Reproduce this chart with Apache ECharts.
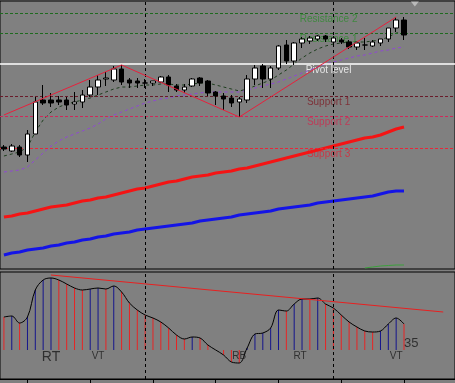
<!DOCTYPE html>
<html><head><meta charset="utf-8">
<script src="https://cdn.jsdelivr.net/npm/echarts@6/dist/echarts.min.js"></script>
<style>html,body{margin:0;padding:0;background:#808080;}#c{width:455px;height:383px;}</style>
</head><body><div id="c"></div>
<script>
// ---- data (price units, top panel) ----
const categories = Array.from({length: 58}, (_, i) => String(i));
const open  = [122,118,122,114,135,169,169,169,169,165,167,174,182,190,189,200,189,188,186,186,187,192,183,179,183,191,188,177,173,171,167,169,190,203,190,201,224,208,226,228,230,233,227,229,227,222,224,223,226,230,241,249];
const close = [120,123,114,135,167,166,166,167,164,167,174,182,189,191,200,187,186,186,186,188,192,184,179,182,190,186,176,173,170,166,170,190,201,190,201,223,208,226,230,231,233,230,231,227,222,226,224,227,230,241,249,234];
const low   = [118,117,112,107,135,164,162,164,159,159,161,172,174,183,187,184,181,181,181,183,186,177,177,176,182,183,173,164,159,162,152,166,184,181,181,199,205,204,221,225,228,227,225,225,220,219,219,222,223,227,237,229];
const high  = [124,125,124,139,172,184,176,173,172,177,179,189,194,197,203,204,191,191,190,188,193,194,185,185,191,192,189,178,176,174,172,194,204,205,203,224,229,227,232,233,234,234,233,231,229,227,231,229,230,241,252,252];
const maFast = [113,115,117,122,137,149,157,162,165,167,169,171,174,177,180,182,182,183,184,184,185,185,184,184,185,186,186,184,182,180,178,180,183,186,189,194,199,205,211,216,220,223,225,226,227,227,227,228,229,232,236,237];
const maSlow = [97,98,99,102,109,116,123,128,132,135,138,141,145,150,154,157,160,163,166,168,170,171,173,174,175,176,177,177,177,177,177,179,181,183,185,187,190,193,196,199,202,205,207,209,211,213,214,216,218,219,221,222];
const redBand  = [52,53,55,56,58,60,62,63,64,66,68,69,71,72,74,76,78,80,81,83,85,87,88,90,92,93,94,96,97,98,100,101,103,105,107,109,111,113,115,117,119,121,123,125,127,129,131,132,134,137,140,142];
const blueBand = [14,16,17,19,20,21,23,24,26,27,29,30,32,33,35,36,37,39,40,41,42,43,44,45,46,48,49,50,51,52,54,55,56,57,58,60,61,62,63,64,66,67,68,69,70,71,72,73,75,77,78,78];
const greenTail = {idx: [46,47,48,49,50,51], val: [1,2,3,3.5,4,4]};
const zigIdx = [0, 15, 30, 50];
const zigVal = [154, 204, 152, 252];
const levelNames  = ['Resistance 2','Resistance 1','Pivot level','Support 1','Support 2','Support 3'];
const levelValues = [256, 236, 205, 173, 153, 121];
const vLines = ['18', '42'];
// ---- oscillator (bottom panel) ----
const osc = [33,34,27,33,60,70,72,70,66,62,60,61,62,61,64,58,47,40,35,32,28,22,15,11,13,12,5,0,-5,-12,-13,2,16,17,22,40,39,46,51,51,52,46,42,35,28,23,19,18,19,26,32,26];
const trendIdx = [6, 56];
const trendVal = [75, 38];
const markIdx  = [6, 12, 30, 38, 50];
const markText = ['RT', 'VT', 'RB', 'RT', 'VT'];
const periodText = '35';

// ---- build ----
const N = categories.length;
function sparse(idx, val) { const a = new Array(N).fill(null); idx.forEach((k, i) => a[k] = val[i]); return a; }
const candles = open.map((o, i) => [o, close[i], low[i], high[i]]);
const levelColors = ['#2f8a2f', '#2f8a2f', '#ffffff', '#7c1c24', '#cc2a4e', '#d8283a'];
const levelLine = [
  {color:'#1f6a1f', type:[3,2], width:1},
  {color:'#1f6a1f', type:[3,2], width:1},
  {color:'#ffffff', type:'solid', width:1.5},
  {color:'#6a1a2a', type:[3,2], width:1},
  {color:'#d0285a', type:[3,2], width:1},
  {color:'#e8283a', type:[3,2], width:1}
];
const oscColors = osc.map((v, i) => (i > 0 && v > osc[i-1]) ? '#14148c' : '#e82424');
const font = '"Liberation Sans", Arial, sans-serif';
const vMark = {symbol:'none', silent:true, label:{show:false}, lineStyle:{color:'#000', type:[3,3], width:1}, data: vLines.map(v => ({xAxis: v}))};

const option = {
  animation: false,
  backgroundColor: '#808080',
  grid: [
    {left: -2, top: 1, width: 464, height: 268, show: true, backgroundColor: '#808080', borderColor: '#000', borderWidth: 1},
    {left: -2, top: 272, width: 464, height: 107, show: true, backgroundColor: '#808080', borderColor: '#000', borderWidth: 1}
  ],
  xAxis: [
    {type:'category', gridIndex:0, data:categories, boundaryGap:true, axisLine:{show:false, onZero:false}, axisTick:{show:false}, axisLabel:{show:false}, splitLine:{show:false}},
    {type:'category', gridIndex:1, data:categories, boundaryGap:true, position:'bottom', axisLine:{show:true, onZero:false, lineStyle:{color:'#000', width:1}},
     axisTick:{show:true, alignWithLabel:true, length:4, interval:(i) => i % 8 === 3, lineStyle:{color:'#000'}}, axisLabel:{show:false}, splitLine:{show:false}}
  ],
  yAxis: [
    {type:'value', gridIndex:0, min:0, max:268, show:false, splitLine:{show:false}},
    {type:'value', gridIndex:1, min:-29, max:78, show:false, splitLine:{show:false}}
  ],
  series: [
    {type:'scatter', name:'levels', xAxisIndex:0, yAxisIndex:0, symbolSize:0, z:2,
     data: levelValues.map((v, i) => ({value:[41, v], label:{show:true, position:'inside', offset:[3, 6], formatter: levelNames[i], color: levelColors[i], fontSize:10, fontFamily: font}})),
     markLine:{symbol:'none', silent:true, label:{show:false}, data: levelValues.map((v, i) => ({yAxis: v, lineStyle: levelLine[i]}))}
    },
    {type:'line', name:'blue', xAxisIndex:0, yAxisIndex:0, data: blueBand, symbol:'none', lineStyle:{color:'#1414e6', width:3}, z:3},
    {type:'line', name:'red', xAxisIndex:0, yAxisIndex:0, data: redBand, symbol:'none', lineStyle:{color:'#f41414', width:3}, z:3},
    {type:'line', name:'tail', xAxisIndex:0, yAxisIndex:0, data: sparse(greenTail.idx, greenTail.val), connectNulls:true, symbol:'none', lineStyle:{color:'#3ca03c', width:1}, z:3},
    {type:'line', name:'maSlow', xAxisIndex:0, yAxisIndex:0, data: maSlow, symbol:'none', lineStyle:{color:'#9048d4', width:1, type:[3,3]}, z:3},
    {type:'line', name:'maFast', xAxisIndex:0, yAxisIndex:0, data: maFast, symbol:'none', lineStyle:{color:'#1e3e1e', width:1, type:[3,3]}, z:3},
    {type:'candlestick', name:'price', xAxisIndex:0, yAxisIndex:0, data: candles, barWidth:5, z:5,
     itemStyle:{color:'#ffffff', color0:'#000000', borderColor:'#000000', borderColor0:'#000000', borderWidth:1},
     markLine: vMark},
    {type:'line', name:'zigzag', xAxisIndex:0, yAxisIndex:0, data: sparse(zigIdx, zigVal), connectNulls:true, symbol:'none', lineStyle:{color:'#e8203c', width:1}, z:6},
    {type:'scatter', name:'arrow', xAxisIndex:0, yAxisIndex:0, data:[[52, 265]], symbol:'triangle', symbolRotate:180, symbolSize:[8,5], symbolOffset:[3,0], itemStyle:{color:'#c8c8c8'}, z:6},
    // bottom panel
    {type:'bar', name:'oscBars', xAxisIndex:1, yAxisIndex:1, barWidth:1, data: osc.map((v, i) => ({value:v, itemStyle:{color: oscColors[i]}})), z:3,
     markLine: vMark},
    {type:'line', name:'osc', xAxisIndex:1, yAxisIndex:1, data: osc, symbol:'none', smooth:0.35, lineStyle:{color:'#000', width:1}, z:4},
    {type:'line', name:'trend', xAxisIndex:1, yAxisIndex:1, data: sparse(trendIdx, trendVal), connectNulls:true, symbol:'none', lineStyle:{color:'#e82020', width:1}, z:4},
    {type:'scatter', name:'marks', xAxisIndex:1, yAxisIndex:1, symbolSize:0, z:5,
     data: markIdx.map((k, i) => ({value:[k, -6], label:{show:true, position:'inside', offset:[k === 38 ? -2 : 0, i === 0 ? 1 : 0], formatter: markText[i], color:'#1a1a1a', fontSize: i === 0 ? 14 : 10, fontFamily: font}}))
    },
    {type:'scatter', name:'period', xAxisIndex:1, yAxisIndex:1, symbolSize:0, z:5,
     data:[{value:[51, 7], label:{show:true, position:'right', distance:0, formatter: periodText, color:'#1a1a1a', fontSize:13, fontFamily: font}}]}
  ]
};
const chart = echarts.init(document.getElementById('c'), null, {renderer:'canvas'});
chart.setOption(option);
</script>
</body></html>
